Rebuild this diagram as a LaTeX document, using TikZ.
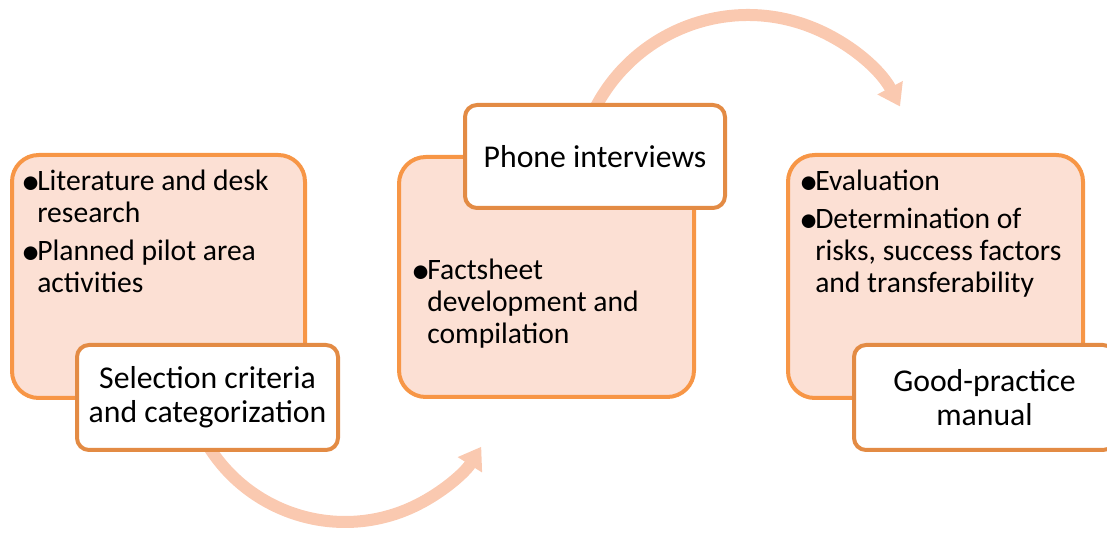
\documentclass[tikz,border=0pt]{standalone}
\usepackage{fontspec}
\setmainfont{Carlito}
\usetikzlibrary{arrows.meta}
\definecolor{boxfill}{HTML}{FCE0D4}
\definecolor{boxline}{HTML}{F79646}
\definecolor{wline}{HTML}{E38B44}
\definecolor{arrowc}{HTML}{FAC9B0}
\pgfdeclarelayer{background}
\pgfsetlayers{background,main}
\newcommand\bul{\makebox[12pt][l]{\raisebox{-3pt}{\scalebox{1.3}{•}}}}
\begin{document}
\begin{tikzpicture}[x=0.75pt,y=-0.75pt,
  bigbox/.style={draw=boxline,fill=boxfill,line width=3pt,rounded corners=20pt,inner sep=0pt},
  whitebox/.style={draw=wline,fill=white,line width=3pt,rounded corners=9pt,align=center,
    font=\fontsize{23.8}{25.5}\selectfont,inner sep=0pt,minimum width=195.75pt,minimum height=78.75pt},
  listtext/.style={anchor=base west,inner sep=0pt,font=\fontsize{22.2}{24}\selectfont},
  flow/.style={draw=arrowc,line width=9pt,-{Triangle[width=20.5pt,length=16pt]}}
]
\useasboundingbox (0,0) rectangle (1107,534);

% big boxes
\node[bigbox,minimum width=219.75pt,minimum height=182.25pt] (b1) at (158.5,276.5) {};
\node[listtext] (t1) at (21,191) {\begin{tabular}[t]{@{}l@{}l@{}}\bul&Literature and desk\\&research\\[4pt]\bul&Planned pilot area\\&activities\end{tabular}};
\node[whitebox] (sel) at (207.5,397.5) {Selection criteria\\and categorization};

\node[bigbox,minimum width=221.25pt,minimum height=180pt] (b2) at (546.5,277) {};
\node[listtext] (t2) at (411,280) {\begin{tabular}[t]{@{}l@{}l@{}}\bul&Factsheet\\&development and\\&compilation\end{tabular}};
\node[whitebox,minimum width=195pt,minimum height=77.25pt] (phone) at (595,156.5) {Phone interviews};

\node[bigbox,minimum width=221.25pt,minimum height=182.25pt] (b3) at (935.5,276.5) {};
\node[listtext] (t3) at (799,191) {\begin{tabular}[t]{@{}l@{}l@{}}\bul&Evaluation\\[4pt]\bul&Determination of\\&risks, success factors\\&and transferability\end{tabular}};
\node[whitebox] (gp) at (984.5,397.5) {Good-practice\\manual};

% curved arrows behind the boxes
\coordinate (a1s) at (199.1,429);
\coordinate (a2s) at (586.4,128.2);
\begin{pgfonlayer}{background}
\draw[flow] (a1s) arc[start angle=155,end angle=32.2,radius=161];
\draw[flow] (a2s) arc[start angle=200,end angle=332.1,radius=172];
\end{pgfonlayer}
\end{tikzpicture}
\end{document}
